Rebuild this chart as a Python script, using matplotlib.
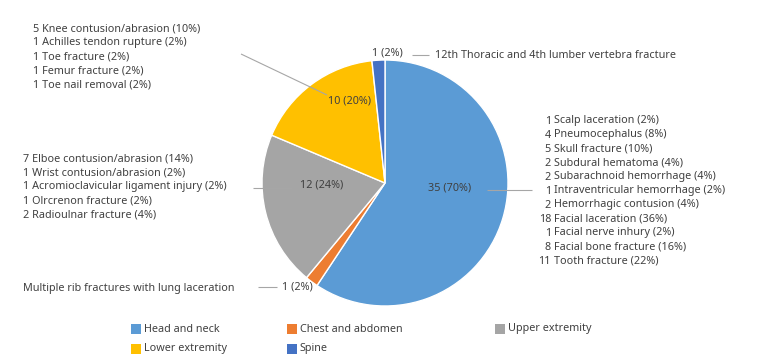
import matplotlib
matplotlib.use("Agg")
import matplotlib.pyplot as plt
from matplotlib.patches import Rectangle

# ---- data ----
categories = ["Head and neck", "Chest and abdomen", "Upper extremity", "Lower extremity", "Spine"]
counts = [35, 1, 12, 10, 1]
percents = [70, 2, 24, 20, 2]
colors = ["#5B9BD5", "#ED7D31", "#A5A5A5", "#FFC000", "#4472C4"]

head_counts = [1, 4, 5, 2, 2, 1, 2, 18, 1, 8, 11]
head_names = ["Scalp laceration", "Pneumocephalus", "Skull fracture", "Subdural hematoma",
              "Subarachnoid hemorrhage", "Intraventricular hemorrhage", "Hemorrhagic contusion",
              "Facial laceration", "Facial nerve inhury", "Facial bone fracture", "Tooth fracture"]
head_pcts = [2, 8, 10, 4, 4, 2, 4, 36, 2, 16, 22]

lower_counts = [5, 1, 1, 1, 1]
lower_names = ["Knee contusion/abrasion", "Achilles tendon rupture", "Toe fracture",
               "Femur fracture", "Toe nail removal"]
lower_pcts = [10, 2, 2, 2, 2]

upper_counts = [7, 1, 1, 1, 2]
upper_names = ["Elboe contusion/abrasion", "Wrist contusion/abrasion",
               "Acromioclavicular ligament injury", "Olrcrenon fracture", "Radioulnar fracture"]
upper_pcts = [14, 2, 2, 2, 4]

chest_detail = "Multiple rib fractures with lung laceration"
spine_detail = "12th Thoracic and 4th lumber vertebra fracture"

# ---- figure ----
W, H = 776, 362
fig = plt.figure(figsize=(W / 100, H / 100), dpi=100)
ax = fig.add_axes([0, 0, 1, 1])

def Y(y):
    return H - y

TXT = "#404040"
LINE = "#A6A6A6"
FONT = "Noto Sans"
FS = 7.8

ax.pie(counts, colors=colors, startangle=90, counterclock=False,
       center=(385, Y(183)), radius=123, frame=True,
       wedgeprops=dict(edgecolor="white", linewidth=1.0))
ax.set_xlim(0, W)
ax.set_ylim(0, H)
ax.set_aspect("equal")
ax.axis("off")

def t(x, y, s, ha="left", va="center"):
    ax.text(x, Y(y), s, ha=ha, va=va, fontsize=FS, color=TXT, family=FONT)

def seg(x0, y0, x1, y1):
    ax.plot([x0, x1], [Y(y0), Y(y1)], color=LINE, lw=0.8, solid_capstyle="butt")

def lab(i):
    return f"{counts[i]} ({percents[i]}%)"

# data labels
t(450, 188, lab(0), ha="center")
t(297, 287, lab(1), ha="center")
t(322, 185, lab(2), ha="center")
t(350, 101, lab(3), ha="center")
t(387, 53, lab(4), ha="center")

# leader lines
seg(487, 190, 532, 190)
seg(258, 287, 277, 287)
seg(253, 188, 292, 188)
seg(241, 54, 327, 95)
seg(412, 55, 429, 55)

# detail blocks
for k, (c, n, p) in enumerate(zip(head_counts, head_names, head_pcts)):
    y = 121 + k * 14.0
    t(551, y, f"{c}", ha="right")
    t(553.5, y, f"{n} ({p}%)")

for k, (c, n, p) in enumerate(zip(lower_counts, lower_names, lower_pcts)):
    t(33, 29 + k * 14.0, f"{c} {n} ({p}%)")

for k, (c, n, p) in enumerate(zip(upper_counts, upper_names, upper_pcts)):
    t(23, 159 + k * 14.0, f"{c} {n} ({p}%)")

t(23, 289, chest_detail)
t(435, 55, spine_detail)

# legend
leg_pos = [(131, 329), (287, 329), (495, 329), (131, 349), (287, 349)]
for (x, y), name, col in zip(leg_pos, categories, colors):
    ax.add_patch(Rectangle((x, Y(y) - 5), 10, 10, facecolor=col, edgecolor="none"))
    t(x + 13, y, name)

fig.savefig("out.png", dpi=100)
